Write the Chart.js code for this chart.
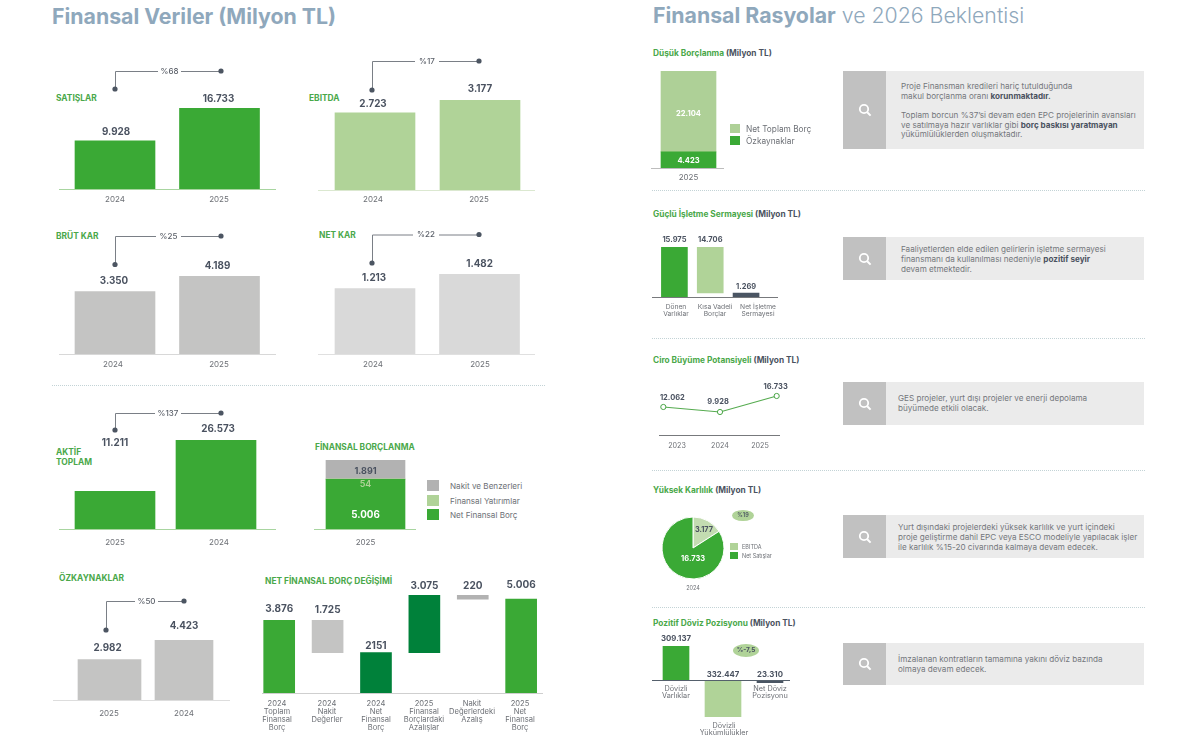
<!DOCTYPE html>
<html lang="tr"><head><meta charset="utf-8">
<script src="https://cdn.jsdelivr.net/npm/chart.js@4"></script>
<style>
html,body{margin:0;padding:0;background:#fff;width:1200px;height:745px;overflow:hidden}
body{position:relative;font-family:Inter,"DejaVu Sans",sans-serif}
canvas{position:absolute;display:block}
.t{position:absolute;white-space:nowrap;transform:translateY(-50%);line-height:1}
.d{position:absolute;border-top:1px dotted #c3d3d6;height:0}
.b{position:absolute}
</style></head><body>
<script>
// ---------- data ----------
const years2425=['2024','2025'];
const years2524=['2025','2024'];
const satislar=[9928,16733];
const ebitda=[2723,3177];
const brutKar=[3350,4189];
const netKar=[1213,1482];
const aktifToplam=[11211,26573];
const ozkaynaklar=[2982,4423];
const finBorcNet=[5006], finBorcYatirim=[54], finBorcNakit=[1891];
const nfbLabels=[['2024','Toplam','Finansal','Borç'],['2024','Nakit','Değerler'],['2024','Net','Finansal','Borç'],['2025','Finansal','Borçlardaki','Azalışlar'],['Nakit','Değerlerdeki','Azalış'],['2025','Net','Finansal','Borç']];
const nfbLow=[0,2151,0,2151,5006,0];
const nfbHigh=[3876,3876,2151,5226,5226,5006];
const nfbText=['3.876','1.725','2151','3.075','220','5.006'];
const dusukOzkaynak=[4423], dusukToplamBorc=[22104];
const isletmeLabels=[['Dönen','Varlıklar'],['Kısa Vadeli','Borçlar'],['Net İşletme','Sermayesi']];
const isletmeLow=[0,1269,0];
const isletmeHigh=[15975,15975,1269];
const isletmeText=['15.975','14.706','1.269'];
const ciroYears=['2023','2024','2025'];
const ciro=[12062,9928,16733];
const karlilikLabels=['EBITDA','Net Satışlar'];
const karlilik=[3177,16733];
const dovizLabels=[['Dövizli','Varlıklar'],['','','','','','Dövizli','Yükümlülükler'],['Net Döviz','Pozisyonu']];
const doviz=[309137,-332447,-23310];
const dovizText=['309.137','332.447','23.310'];

// ---------- style ----------
const FONT='Inter,"DejaVu Sans",sans-serif';
const GREEN='#3aa935',LIGHT='#b0d398',GREY='#c4c4c3',PALE='#d9d9d9',DEEP='#00813a',SLATE='#4a5563';
const INK='#4a5260',TICK='#6d7076',SEC='#4aa84a';
const fmt=v=>String(Math.abs(v)).replace(/\B(?=(\d{3})+$)/g,'.');

function T(x,y,html,css){const e=document.createElement('div');e.className='t';e.style.cssText=`left:${x}px;top:${y}px;${css||''}`;e.innerHTML=html;document.body.appendChild(e);return e;}
function R(x,y,w,h,c,extra){const e=document.createElement('div');e.className='b';e.style.cssText=`left:${x}px;top:${y}px;width:${w}px;height:${h}px;background:${c};${extra||''}`;document.body.appendChild(e);return e;}
function D(x,y,w){const e=document.createElement('div');e.className='d';e.style.cssText=`left:${x}px;top:${y}px;width:${w}px`;document.body.appendChild(e);}

// Draws baseline, value labels and connector through the chart's own scales
const decor={id:'decor',afterDatasetsDraw(ch,_a,o){
  const c=ch.ctx,[bx,by]=o.box,xs=ch.scales.x,ys=ch.scales.y;c.save();
  if(o.axis){const y=Math.round(ys.getPixelForValue(0))+0.5;c.strokeStyle=o.axis[2];c.lineWidth=1;c.beginPath();c.moveTo(o.axis[0]-bx,y);c.lineTo(o.axis[1]-bx,y);c.stroke();}
  (o.labels||[]).forEach(l=>{c.font=`${l.weight||700} ${l.size||9.8}px ${FONT}`;c.fillStyle=l.color||INK;c.textAlign='center';c.textBaseline='middle';
    c.fillText(l.text,xs.getPixelForValue(l.i)+(l.dx||0),ys.getPixelForValue(l.v)+l.dy);});
  if(o.link){const k=o.link;c.strokeStyle='#7a7f86';c.lineWidth=1;c.beginPath();
    c.moveTo(k.x0-bx+.5,k.y0-by);c.lineTo(k.x0-bx+.5,k.y1-by+.5);c.lineTo(k.g0-bx,k.y1-by+.5);c.moveTo(k.g1-bx,k.y1-by+.5);c.lineTo(k.x1-bx,k.y1-by+.5);c.stroke();
    c.fillStyle='#4c5562';[[k.x0,k.y0],[k.x1,k.y1]].forEach(p=>{c.beginPath();c.arc(p[0]-bx,p[1]-by,2.6,0,7);c.fill();});
    c.font=`500 8px ${FONT}`;c.fillStyle='#5a5f68';c.textAlign='center';c.textBaseline='middle';c.fillText(k.text,(k.g0+k.g1)/2-bx,k.y1-by+.5);}
  c.restore();}};

function addCanvas(box){const cv=document.createElement('canvas');cv.width=box[2];cv.height=box[3];cv.style.left=box[0]+'px';cv.style.top=box[1]+'px';cv.style.width=box[2]+'px';cv.style.height=box[3]+'px';document.body.appendChild(cv);return cv;}

function make(s){
  const [bx,by,bw,bh]=s.box,c=s.centers,n=c.length,sep=n>1?(c[n-1]-c[0])/(n-1):100;
  const l=c[0]-sep/2,r=c[n-1]+sep/2,below=by+bh-s.bottom,zero=!!s.axisAtZero;
  const tf=s.tickFont||{size:8};
  new Chart(addCanvas(s.box),{type:s.type||'bar',plugins:[decor],
    data:{labels:s.labels,datasets:s.datasets},
    options:{responsive:false,animation:false,devicePixelRatio:1,
      layout:{padding:{left:l-bx,right:bx+bw-r,top:s.top-by,bottom:zero?below:0}},
      plugins:{legend:{display:false},tooltip:{enabled:false},
        decor:{box:s.box,axis:s.axis,labels:s.valueLabels,link:s.link}},
      scales:{
        x:{type:'category',offset:true,stacked:!!s.stacked,position:zero?{y:0}:'bottom',
          grid:{display:false,drawTicks:false},border:{display:false},
          ticks:{autoSkip:false,maxRotation:0,minRotation:0,padding:s.tickPad||6,color:TICK,font:{family:FONT,size:tf.size,lineHeight:tf.lh||1.1}},
          afterBuildTicks:a=>{if(s.tickX)a.getPixelForTick=i=>s.tickX[i]-bx;},
          afterFit:a=>{a.height=zero?0:below;}},
        y:{display:false,stacked:!!s.stacked,min:s.min||0,max:s.max}}}});
}
function perBar(vals,colors,widths){return vals.map((v,i)=>({data:vals.map((_,j)=>j===i?v:null),backgroundColor:colors[i],barThickness:widths[i],borderWidth:0}));}
function labelsAbove(vals,offs){return vals.map((v,i)=>({i,v,text:fmt(v),dx:(offs[i]||[0,-9])[0],dy:(offs[i]||[0,-9])[1]}));}

// ---------- left side ----------
T(52,16,'Finansal Veriler (Milyon TL)','font:700 21.3px '+FONT+';color:#8fa8bc');
const sec='font:700 8.4px '+FONT+';color:'+SEC;
T(56,98,'SATIŞLAR',sec);T(309,98,'EBITDA',sec);T(56,236,'BRÜT KAR',sec);T(319,235,'NET KAR',sec);
T(56,452,'AKTİF',sec);T(56,462,'TOPLAM',sec);T(315,446.5,'FİNANSAL BORÇLANMA',sec);
T(59,578,'ÖZKAYNAKLAR',sec);T(265,581,'NET FİNANSAL BORÇ DEĞİŞİMİ',sec);
D(52,385,493);

make({box:[50,60,240,150],labels:years2425,centers:[115,219.5],top:108,bottom:189,max:16733,
  datasets:[{data:satislar,backgroundColor:GREEN,barThickness:80,borderWidth:0}],
  axis:[59,276,'#a8d5a0'],tickX:[115,219],valueLabels:labelsAbove(satislar,[[1,-9],[-1,-9]]),
  link:{x0:115,y0:89,x1:221,y1:71,g0:158,g1:181,text:'%68'}});
make({box:[305,50,240,160],labels:years2425,centers:[375,480],top:100,bottom:190,max:3177,
  datasets:[{data:ebitda,backgroundColor:LIGHT,barThickness:80,borderWidth:0}],
  axis:[318,535,'#dbe8d0'],tickX:[373,479],tickPad:5,valueLabels:labelsAbove(ebitda,[[-2,-9],[0,-11]]),
  link:{x0:372,y0:90,x1:479,y1:61,g0:415,g1:439,text:'%17'}});
make({box:[50,225,240,150],labels:years2425,centers:[115,219.5],top:276,bottom:354,max:4189,
  datasets:[{data:brutKar,backgroundColor:GREY,barThickness:80,borderWidth:0}],
  axis:[59,276,'#d8d8d8'],tickX:[113,219],valueLabels:labelsAbove(brutKar,[[-1,-11],[-2,-10]]),
  link:{x0:115,y0:264.5,x1:221,y1:236,g0:156,g1:181,text:'%25'}});
make({box:[305,225,240,150],labels:years2425,centers:[375,479.5],top:274,bottom:354,max:1482,
  datasets:[{data:netKar,backgroundColor:PALE,barThickness:80,borderWidth:0}],
  axis:[318,535,'#e0e0e0'],tickX:[373,480],valueLabels:labelsAbove(netKar,[[-1,-10],[0,-10]]),
  link:{x0:372,y0:263,x1:479,y1:234.5,g0:413,g1:439,text:'%22'}});
make({box:[50,405,240,150],labels:years2524,centers:[115,216],top:440,bottom:529,max:26573,
  datasets:[{data:aktifToplam,backgroundColor:GREEN,barThickness:80,borderWidth:0}],
  axis:[59,276,'#a8d5a0'],tickX:[115,219],tickPad:9,valueLabels:labelsAbove(aktifToplam,[[0,-48],[2,-11]]),
  link:{x0:115,y0:430,x1:221,y1:413,g0:155,g1:181,text:'%137'}});
make({box:[310,450,110,105],labels:['2025'],centers:[365.5],top:460,bottom:529,max:6951,stacked:true,tickPad:9,
  datasets:[{data:finBorcNet,backgroundColor:GREEN,barThickness:79,borderWidth:0},
            {data:finBorcYatirim,backgroundColor:LIGHT,barThickness:79,borderWidth:0},
            {data:finBorcNakit,backgroundColor:'#b2b2b2',barThickness:79,borderWidth:0}],
  axis:[314,416,'#a8d5a0'],
  valueLabels:[{i:0,v:6951,text:fmt(finBorcNakit[0]),dy:11,size:9},
               {i:0,v:5060,text:fmt(finBorcYatirim[0]),dy:6,color:LIGHT,weight:600,size:9},
               {i:0,v:5006,text:fmt(finBorcNet[0]),dy:35.5,color:'#fff'}]});
[['Nakit ve Benzerleri','#b2b2b2',480],['Finansal Yatırımlar',LIGHT,495],['Net Finansal Borç',GREEN,509]].forEach(a=>{
  R(427,a[2],12,11,a[1]);T(450,a[2]+5.5,a[0],'font:400 8.1px '+FONT+';color:'+TICK);});
make({box:[48,590,190,135],labels:years2524,centers:[109.5,184],top:640,bottom:700,max:4423,stacked:true,tickPad:9,
  datasets:perBar(ozkaynaklar,[GREY,GREY],[63,58]),
  axis:[53,230,'#dddddd'],tickX:[109,184],valueLabels:labelsAbove(ozkaynaklar,[[-2,-11],[0,-14]]),
  link:{x0:106,y0:630,x1:184,y1:601,g0:135,g1:158,text:'%50'}});
make({box:[255,575,295,165],labels:nfbLabels,centers:[277.5,326.5,376,424.5,472.5,521],top:595,bottom:693,max:5226,tickPad:7,
  tickFont:{size:7.6,lh:1.03},
  datasets:[{data:nfbLow.map((v,i)=>[v,nfbHigh[i]]),backgroundColor:[GREEN,GREY,DEEP,DEEP,'#b2b2b2',GREEN],barThickness:31,borderWidth:0}],
  axis:[262,543,'#cfcfcf'],tickX:[277,327,376,424,472,520],
  valueLabels:nfbHigh.map((v,i)=>({i,v,text:nfbText[i],size:10,dy:[-11,-10,-7,-9,-9,-14][i]}))});

// ---------- right side ----------
T(653,16,'<span style="font-weight:700">Finansal Rasyolar</span> <span style="font-weight:300">ve 2026 Beklentisi</span>','font-size:21.3px;font-family:'+FONT+';color:#8fa8bc');
const secR='font:700 8.3px '+FONT+';color:'+SEC;
const mil=' <span style="color:'+INK+'">(Milyon TL)</span>';
T(653,52.5,'Düşük Borçlanma'+mil,secR);T(653,214,'Güçlü İşletme Sermayesi'+mil,secR);T(653,360,'Ciro Büyüme Potansiyeli'+mil,secR);
T(653,490,'Yüksek Karlılık'+mil,secR);T(653,623,'Pozitif Döviz Pozisyonu'+mil,secR);
[190,338,470,607].forEach(y=>D(652,y,493));

function callout(y0,y1,x,lines,ys,fs){
  R(843,y0,43,y1-y0,'#c1c1c1');R(886,y0,258,y1-y0,'#ebebeb');
  const yc=(y0+y1)/2,s=document.createElementNS('http://www.w3.org/2000/svg','svg');
  s.setAttribute('width','14');s.setAttribute('height','14');s.setAttribute('viewBox','0 0 14 14');
  s.style.cssText=`position:absolute;left:857.5px;top:${yc-7}px`;
  s.innerHTML='<circle cx="6" cy="6" r="4.2" fill="none" stroke="#fff" stroke-width="1.8"/><line x1="9.2" y1="9.2" x2="12.6" y2="12.6" stroke="#fff" stroke-width="2"/>';
  document.body.appendChild(s);
  lines.forEach((h,i)=>T(x,ys[i],h,`font:400 ${fs||8.15}px ${FONT};color:#74777c`));
}
const B=t=>`<b style="color:${INK};font-weight:700">${t}</b>`;
callout(71,149,901,['Proje Finansman kredileri hariç tutulduğunda','makul borçlanma oranı '+B('korunmaktadır.'),'Toplam borcun %37’si devam eden EPC projelerinin avansları','ve satılmaya hazır varlıklar gibi '+B('borç baskısı yaratmayan'),'yükümlülüklerden oluşmaktadır.'],[86,96,115,125,134]);
callout(237,280,901,['Faaliyetlerden elde edilen gelirlerin işletme sermayesi','finansmanı da kullanılması nedeniyle '+B('pozitif seyir'),'devam etmektedir.'],[249,259,269]);
callout(382,425,898,['GES projeler, yurt dışı projeler ve enerji depolama','büyümede etkili olacak.'],[398,408]);
callout(515,558,898,['Yurt dışındaki projelerdeki yüksek karlılık ve yurt içindeki','proje geliştirme dahil EPC veya ESCO modeliyle yapılacak işler','ile karlılık %15-20 civarında kalmaya devam edecek.'],[527,537,547]);
callout(643,685,898,['İmzalanan kontratların tamamına yakını döviz bazında','olmaya devam edecek.'],[659,669]);

make({box:[630,65,120,120],labels:['2025'],centers:[688.5],top:71,bottom:168,max:26527,stacked:true,tickPad:5,
  datasets:[{data:dusukOzkaynak,backgroundColor:GREEN,barThickness:55,borderWidth:0},
            {data:dusukToplamBorc,backgroundColor:'#aed097',barThickness:55,borderWidth:0}],
  axis:[651,724,'#bdbdbd'],
  valueLabels:[{i:0,v:26527,text:fmt(dusukToplamBorc[0]),dy:43,color:'#fff',size:7.6},
               {i:0,v:4423,text:fmt(dusukOzkaynak[0]),dy:8.5,color:'#fff',size:7.6}]});
[['Net Toplam Borç','#aed097',124],['Özkaynaklar',GREEN,136]].forEach(a=>{R(730,a[2],10,9,a[1]);T(746,a[2]+4.5,a[0],'font:400 8.3px '+FONT+';color:'+TICK);});

make({box:[648,230,135,95],labels:isletmeLabels,centers:[676,715,754],top:247,bottom:297,max:15975,tickPad:7,
  tickFont:{size:6.7,lh:.97},
  datasets:[{data:isletmeLow.map((v,i)=>[v,isletmeHigh[i]]),backgroundColor:[GREEN,LIGHT,SLATE],barThickness:26,borderWidth:0}],
  axis:[652,778,'#77797c'],tickX:[676,715,758],
  valueLabels:isletmeHigh.map((v,i)=>({i,v,text:isletmeText[i],size:7.5,dy:i===2?-6:-7}))});

make({type:'line',box:[630,378,180,78],labels:ciroYears,centers:[663,720,777],top:388.3,bottom:433,min:1000,max:20000,tickPad:9,tickFont:{size:7.2},
  datasets:[{data:ciro,borderColor:'#55ab4f',borderWidth:1.2,tension:0,pointRadius:2.6,pointBackgroundColor:'#fff',pointBorderColor:'#4aa547',pointBorderWidth:1,clip:false}],
  axis:[659,780,'#77797c'],tickX:[677,720,760],
  valueLabels:[{i:0,v:ciro[0],text:fmt(ciro[0]),size:7.5,dx:9,dy:-9.5},{i:1,v:ciro[1],text:fmt(ciro[1]),size:7.5,dx:-2,dy:-10},{i:2,v:ciro[2],text:fmt(ciro[2]),size:7.5,dx:-1,dy:-9}]});

// pie
const pieBox=[655,510,80,90];
const pieLabels={id:'pieLabels',afterDatasetsDraw(ch){const c=ch.ctx,m=ch.getDatasetMeta(0).data;c.save();c.textAlign='center';c.textBaseline='middle';
  const a=m[0].tooltipPosition(),b=m[1].tooltipPosition();
  c.font=`700 7.3px ${FONT}`;c.fillStyle=INK;c.fillText(fmt(karlilik[0]),a.x+3.5,a.y-5);
  c.font=`700 7.5px ${FONT}`;c.fillStyle='#fff';c.fillText(fmt(karlilik[1]),b.x+7.6,b.y-3);
  c.font=`400 5.5px ${FONT}`;c.fillStyle=TICK;c.fillText('2024',ch.chartArea.left+31.5,78);c.restore();}};
new Chart(addCanvas(pieBox),{type:'pie',plugins:[pieLabels],
  data:{labels:karlilikLabels,datasets:[{data:karlilik,backgroundColor:['#c3dcb1',GREEN],borderColor:'#fff',borderWidth:1}]},
  options:{responsive:false,animation:false,devicePixelRatio:1,layout:{padding:{left:6.5,top:6.5,right:10.5,bottom:20.5}},plugins:{legend:{display:false},tooltip:{enabled:false}}}});
[[karlilikLabels[0],LIGHT,543],[karlilikLabels[1],GREEN,552]].forEach(a=>{R(730,a[2],7.5,7,a[1]);T(742,a[2]+3.5,a[0],'font:400 5.5px '+FONT+';color:'+TICK);});
R(732,509.5,22,11,'#b0d398','border-radius:50%');
T(743,515,'%19','font:600 5.5px '+FONT+';color:'+INK+';transform:translate(-50%,-50%)');
R(733,643.5,26,13,'#b0d398','border-radius:50%');
T(746,650,'%-7,5','font:700 6.5px '+FONT+';color:'+INK+';transform:translate(-50%,-50%)');

make({box:[648,630,150,110],labels:dovizLabels,centers:[676,723,770],top:646,bottom:717,min:-332447,max:309137,stacked:true,axisAtZero:true,tickPad:5,
  tickFont:{size:7.3,lh:1},
  datasets:perBar(doviz,[GREEN,LIGHT,SLATE],[26,36,26]),
  axis:[652,790,'#55606c'],tickX:[676,724,770],
  valueLabels:[{i:0,v:doviz[0],text:dovizText[0],size:7.8,dy:-7},{i:1,v:0,text:dovizText[1],size:7.8,dy:-6},{i:2,v:0,text:dovizText[2],size:7.8,dy:-6}]});
</script>
</body></html>
